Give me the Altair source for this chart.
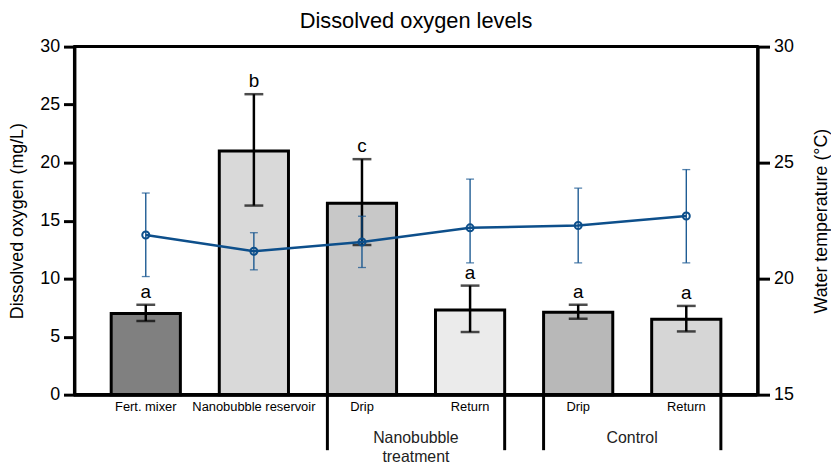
import json
import altair as alt
import pandas as pd

FONT = "Liberation Sans"
BLUE = "#0d4f8b"

# ---- data ----
keys = ["fert", "reservoir", "nb_drip", "nb_return", "ct_drip", "ct_return"]
labels = ["Fert. mixer", "Nanobubble reservoir", "Drip", "Return", "Drip", "Return"]
do_mean = [7.0, 21.0, 16.5, 7.3, 7.1, 6.5]
do_lo = [6.35, 16.3, 12.9, 5.4, 6.55, 5.45]
do_hi = [7.75, 25.9, 20.3, 9.4, 7.75, 7.65]
letters = ["a", "b", "c", "a", "a", "a"]
temp_mean = [21.88, 21.18, 21.58, 22.19, 22.29, 22.70]
temp_lo = [20.09, 20.38, 20.48, 20.68, 20.68, 20.68]
temp_hi = [23.69, 21.98, 22.69, 24.29, 23.90, 24.70]
group_start = ["nb_drip", "ct_drip"]
group_end = ["nb_return", "ct_return"]
group_names = ["Nanobubble\ntreatment", "Control"]
bar_colors = ["#808080", "#d9d9d9", "#c8c8c8", "#ebebeb", "#b8b8b8", "#d6d6d6"]

W, H = 689, 351

df = pd.DataFrame(dict(key=keys, label=labels, do=do_mean, do_lo=do_lo, do_hi=do_hi,
                       letter=letters, t=temp_mean, t_lo=temp_lo, t_hi=temp_hi))
groups = pd.DataFrame(dict(start=group_start, end=group_end, name=group_names))

label_expr = json.dumps(dict(zip(keys, labels))) + "[datum.value]"
xscale = alt.Scale(domain=keys, paddingInner=0.36, paddingOuter=0.34)
xaxis = alt.Axis(title=None, labelExpr=label_expr, labelAngle=0, ticks=False, domain=False,
                 labelFontSize=13, labelPadding=6, labelColor="black", labelFont=FONT)


def X(field, **kw):
    return alt.X(field, type="nominal", scale=xscale, axis=xaxis, **kw)


yl_scale = alt.Scale(domain=[0, 30])
yl_axis = alt.Axis(values=[0, 5, 10, 15, 20, 25, 30], title="Dissolved oxygen (mg/L)", grid=False,
                   domainColor="black", domainWidth=3, tickColor="black", tickWidth=3, tickSize=11,
                   labelFontSize=18, labelPadding=4, labelColor="black", labelFont=FONT,
                   titleFontSize=18, titleFontWeight="normal", titleFont=FONT, titleColor="black",
                   titlePadding=13)


def YL(field):
    return alt.Y(field, type="quantitative", scale=yl_scale, axis=yl_axis)


yr_scale = alt.Scale(domain=[15, 30])
yr_axis = alt.Axis(orient="right", values=[15, 20, 25, 30], title="Water temperature (°C)", grid=False,
                   domainColor="black", domainWidth=3, tickColor="black", tickWidth=3, tickSize=12,
                   labelFontSize=18, labelPadding=4, labelColor="black", labelFont=FONT,
                   titleFontSize=18, titleFontWeight="normal", titleFont=FONT, titleColor="black",
                   titlePadding=37, titleAngle=270)


def YR(field):
    return alt.Y(field, type="quantitative", scale=yr_scale, axis=yr_axis)


base = alt.Chart(df)

bars = base.mark_bar(stroke="black", strokeWidth=3).encode(
    x=X("key"), y=YL("do"),
    fill=alt.Fill("key:N", scale=alt.Scale(domain=keys, range=bar_colors), legend=None),
)
err = base.mark_rule(color="black", strokeWidth=2.5).encode(x=X("key"), y=YL("do_lo"), y2="do_hi")
cap_lo = base.mark_tick(color="black", thickness=2.5, size=19, orient="horizontal").encode(x=X("key"), y=YL("do_lo"))
cap_hi = base.mark_tick(color="black", thickness=2.5, size=19, orient="horizontal").encode(x=X("key"), y=YL("do_hi"))
let = base.mark_text(fontSize=19, font=FONT, color="black", baseline="alphabetic", dy=-7).encode(
    x=X("key"), y=YL("do_hi"), text="letter:N")

frame_top = base.mark_rule(color="black", strokeWidth=3).encode(
    x=alt.value(0), x2=alt.value(W), y=alt.value(0))
frame_bottom = base.mark_rule(color="black", strokeWidth=3).encode(
    x=alt.value(0), x2=alt.value(W), y=alt.value(H))

gbase = alt.Chart(groups)
br_start = gbase.mark_rule(color="black", strokeWidth=3).encode(
    x=X("start", bandPosition=0), y=alt.value(H), y2=alt.value(H + 56))
br_end = gbase.mark_rule(color="black", strokeWidth=3).encode(
    x=X("end", bandPosition=1), y=alt.value(H), y2=alt.value(H + 56))
gtext = gbase.mark_text(fontSize=16, font=FONT, color="#222222", baseline="alphabetic",
                        lineBreak="\n", lineHeight=19, dx=19.5).encode(
    x=X("start", bandPosition=1), y=alt.value(H + 49), text="name:N")

left = alt.layer(bars, err, cap_lo, cap_hi, let, frame_top, frame_bottom, br_start, br_end, gtext)

t_err = base.mark_rule(color=BLUE, strokeWidth=1.3).encode(x=X("key"), y=YR("t_lo"), y2="t_hi")
t_cap_lo = base.mark_tick(color=BLUE, thickness=1.3, size=8, orient="horizontal").encode(x=X("key"), y=YR("t_lo"))
t_cap_hi = base.mark_tick(color=BLUE, thickness=1.3, size=8, orient="horizontal").encode(x=X("key"), y=YR("t_hi"))
t_line = base.mark_line(color=BLUE, strokeWidth=2.5).encode(x=X("key"), y=YR("t"))
t_pts = base.mark_point(shape="circle", filled=False, color=BLUE, strokeWidth=2, size=50, opacity=1).encode(
    x=X("key"), y=YR("t"))

right = alt.layer(t_err, t_cap_lo, t_cap_hi, t_line, t_pts)

chart = alt.layer(left, right).resolve_scale(y="independent").properties(
    width=W, height=H, padding=0,
    title=alt.TitleParams("Dissolved oxygen levels", fontSize=22, fontWeight="normal", font=FONT,
                          color="black", offset=5),
).configure_view(stroke="black", strokeWidth=3)

chart.save("out.html", embed_options={"renderer": "svg", "actions": False})
